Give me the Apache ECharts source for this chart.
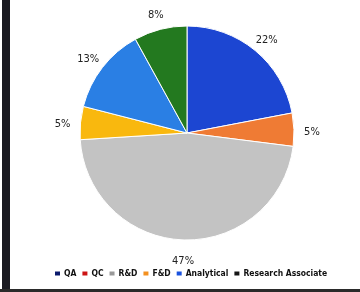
<!DOCTYPE html>
<html>
<head>
<meta charset="utf-8">
<script src="https://cdn.jsdelivr.net/npm/echarts@6/dist/echarts.min.js"></script>
<style>
  html, body { margin: 0; padding: 0; background: #fff; }
  #main { width: 360px; height: 292px; }
</style>
</head>
<body>
<div id="main"></div>
<script>
// 数据
var categories = ['QA', 'QC', 'R&D', 'F&D', 'Analytical', 'Research Associate'];
var shares = [22, 5, 47, 5, 13, 8];
var sliceColors = ['#1c46d2', '#ef7b34', '#c3c3c3', '#f9b80e', '#2a7fe4', '#23791f'];
var legendColors = ['#0b1a6c', '#cc1414', '#999999', '#f39020', '#1a52de', '#151515'];

var FONT = '"DejaVu Sans Condensed", "DejaVu Sans", sans-serif';

var chart = echarts.init(document.getElementById('main'));

var option = {
  backgroundColor: '#fff',
  animation: false,
  graphic: [
    { type: 'rect', shape: { x: 2, y: 0, width: 8, height: 292 }, style: { fill: '#1b1b22' } },
    { type: 'rect', shape: { x: 0, y: 289, width: 360, height: 3 }, style: { fill: '#2a2a2a' } }
  ],
  legend: {
    top: 264,
    left: 48,
    itemWidth: 7,
    itemHeight: 6,
    itemGap: 4,
    icon: 'rect',
    textStyle: {
      fontFamily: FONT,
      fontWeight: 'bold',
      fontSize: 8.5,
      color: '#111',
      padding: [0, 0, 0, -2]
    },
    data: categories.map(function (c, i) {
      return { name: c, itemStyle: { color: legendColors[i] } };
    })
  },
  series: [{
    // 饼图本体
    type: 'pie',
    center: [187, 133],
    radius: 107,
    startAngle: 90,
    clockwise: true,
    itemStyle: { borderColor: '#fff', borderWidth: 1 },
    label: { show: false },
    labelLine: { show: false },
    data: categories.map(function (c, i) {
      return { name: c, value: shares[i], itemStyle: { color: sliceColors[i] } };
    })
  }, {
    // 透明外环，只用来放百分比标签
    type: 'pie',
    center: [187, 133],
    radius: [107, 137],
    startAngle: 90,
    clockwise: true,
    silent: true,
    itemStyle: { color: 'rgba(0,0,0,0)' },
    label: {
      show: true,
      position: 'inside',
      formatter: '{c}%',
      fontFamily: FONT,
      fontSize: 11,
      color: '#222',
      offset: [0, 3]
    },
    labelLine: { show: false },
    data: categories.map(function (c, i) {
      return { name: c, value: shares[i] };
    })
  }]
};

chart.setOption(option);
</script>
</body>
</html>
